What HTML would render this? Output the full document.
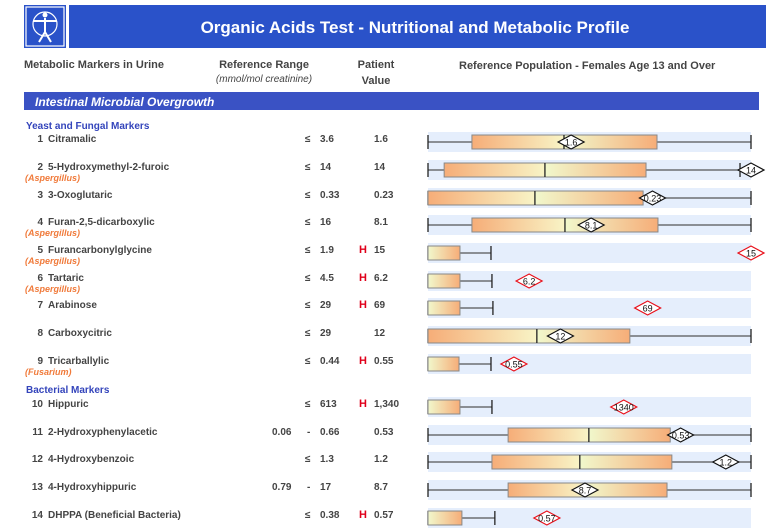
<!DOCTYPE html>
<html><head><meta charset="utf-8">
<style>
html,body{margin:0;padding:0;background:#fff;}
svg{display:block;font-family:"Liberation Sans",Arial,sans-serif;}
</style></head>
<body>
<svg id="chart" width="772" height="532" viewBox="0 0 772 532" xmlns="http://www.w3.org/2000/svg">
<defs>
<linearGradient id="gL" x1="0" x2="1" y1="0" y2="0"><stop offset="0" stop-color="#f6ad78"/><stop offset="1" stop-color="#f8f4c6"/></linearGradient>
<linearGradient id="gR" x1="0" x2="1" y1="0" y2="0"><stop offset="0" stop-color="#f1f8cc"/><stop offset="1" stop-color="#f6ad78"/></linearGradient>
</defs>
<g>
<rect x="24" y="5" width="42" height="43" fill="#2a52c9"/>
<rect x="26" y="7" width="38" height="39" fill="none" stroke="#fff" stroke-width="1.2"/>
<circle cx="45" cy="24" r="12" fill="none" stroke="#fff" stroke-width="1.2"/>
<circle cx="45" cy="15" r="2.5" fill="#fff"/>
<path d="M33 21 L57 21 M45 18 L45 32 M45 32 L39 42 M45 32 L51 42" stroke="#fff" stroke-width="2" fill="none"/>
<rect x="69" y="5" width="697" height="43" fill="#2a52c9"/>
<text x="415" y="33" text-anchor="middle" fill="#fff" font-size="17" font-weight="bold">Organic Acids Test - Nutritional and Metabolic Profile</text>
</g>
<g fill="#444" font-size="11" font-weight="bold">
<text x="24" y="68">Metabolic Markers in Urine</text>
<text x="264" y="68" text-anchor="middle">Reference Range</text>
<text x="264" y="82" text-anchor="middle" font-style="italic" font-size="10" font-weight="normal">(mmol/mol creatinine)</text>
<text x="376" y="68" text-anchor="middle">Patient</text>
<text x="376" y="84" text-anchor="middle">Value</text>
<text x="459" y="69">Reference Population - Females Age 13 and Over</text>
</g>
<rect x="24" y="92" width="735" height="18" fill="#3a52c4"/>
<text x="35" y="106" fill="#fff" font-size="12" font-weight="bold" font-style="italic">Intestinal Microbial Overgrowth</text>
<text x="26" y="129" fill="#3344bb" font-size="10" font-weight="bold">Yeast and Fungal Markers</text>
<text x="26" y="393" fill="#3344bb" font-size="10" font-weight="bold">Bacterial Markers</text>
<g id="rows"></g>
</svg>
<script>
// Data: per-row box stats in percent of the row's reference scale (0-100)
const nums = [1,2,3,4,5,6,7,8,9,10,11,12,13,14];
const names = ["Citramalic","5-Hydroxymethyl-2-furoic","3-Oxoglutaric","Furan-2,5-dicarboxylic","Furancarbonylglycine","Tartaric","Arabinose","Carboxycitric","Tricarballylic","Hippuric","2-Hydroxyphenylacetic","4-Hydroxybenzoic","4-Hydroxyhippuric","DHPPA (Beneficial Bacteria)"];
const organisms = ["","(Aspergillus)","","(Aspergillus)","(Aspergillus)","(Aspergillus)","","","(Fusarium)","","","","",""];
const refLow = ["","","","","","","","","","","0.06","","0.79",""];
const refHigh = ["3.6","14","0.33","16","1.9","4.5","29","29","0.44","613","0.66","1.3","17","0.38"];
const patientLabels = ["1.6","14","0.23","8.1","15","6.2","69","12","0.55","1,340","0.53","1.2","8.7","0.57"];
const valueText = ["1.6","14","0.23","8.1","15","6.2","69","12","0.55","1340","0.53","1.2","8.7","0.57"];
const flags = [0,0,0,0,1,1,1,0,1,1,0,0,0,1];
const boxLo = [13.6,5,0,13.6,0,0,0,0,0,0,24.8,19.8,24.8,0];
const boxHi = [70.9,67.5,66.6,71.2,9.9,9.9,9.9,62.5,9.6,9.9,75,75.5,74,10.5];
const median = [42.1,36.2,33.1,42.4,null,null,null,33.7,null,null,49.8,47,48.6,null];
const whiskLo = [0,0,0,0,0,0,0,0,0,0,0,0,0,0];
const whiskHi = [100,96.6,100,100,19.5,19.8,20.1,100,19.5,19.8,100,100,100,20.7];
const marker = [44.3,100,69.5,50.5,100,31.3,68,41,26.6,60.6,78.2,92.2,48.6,36.8];
const rowY = [142,170,198,225,253,281,308,336,364,407,435,462,490,518];

const X0=428, X1=751;
function xs(p){return X0+(X1-X0)*p/100;}
const NS="http://www.w3.org/2000/svg";
const g=document.getElementById('rows');
function mk(tag,attrs,parent,txt){const e=document.createElementNS(NS,tag);for(const k in attrs)e.setAttribute(k,attrs[k]);if(txt!==undefined)e.textContent=txt;(parent||g).appendChild(e);return e;}

nums.forEach((n,i)=>{
  const cy=rowY[i];
  const ty=cy;
  const row=mk('g',{});
  
  
  const tc="#444";
  const t1=mk('text',{x:43,y:ty,'text-anchor':'end',fill:tc,'font-size':10,'font-weight':'bold'},row,String(n));
  
  
  const t2=mk('text',{x:48,y:ty,fill:tc,'font-size':10,'font-weight':'bold'},row,names[i]);
  
  
  if(organisms[i]){
    const o=mk('text',{x:25,y:cy+11,fill:'#f07a3a','font-size':9,'font-style':'italic','font-weight':'bold'},row,organisms[i]);
    
    
  }
  if(refLow[i]){
    const l=mk('text',{x:272,y:ty,fill:tc,'font-size':10,'font-weight':'bold'},row,refLow[i]);
    
    
    const d=mk('text',{x:307,y:ty,fill:tc,'font-size':10,'font-weight':'bold'},row,'-');
    
    
  } else {
    const le=mk('text',{x:305,y:ty,fill:tc,'font-size':10,'font-weight':'bold'},row,'≤');
    
    
  }
  const rh=mk('text',{x:320,y:ty,fill:tc,'font-size':10,'font-weight':'bold'},row,refHigh[i]);
  
  
  if(flags[i]){
    const h=mk('text',{x:359,y:ty,fill:'#e0001a','font-size':11,'font-weight':'bold'},row,'H');
    
    
  }
  const pv=mk('text',{x:374,y:ty,fill:tc,'font-size':10,'font-weight':'bold'},row,patientLabels[i]);
  
  
  const band=mk('rect',{x:X0,y:cy-10,width:X1-X0,height:20,fill:'#e5eefc'},row);
  
  
  const w=mk('line',{x1:xs(whiskLo[i]),x2:xs(whiskHi[i]),y1:cy,y2:cy,stroke:'#555','stroke-width':1.3},row);
  
  
  [whiskLo[i],whiskHi[i]].forEach(v=>{
    const c=mk('line',{x1:xs(v),x2:xs(v),y1:cy-7,y2:cy+7,stroke:'#222','stroke-width':1.3},row);
    
    
  });
  const bx=xs(boxLo[i]), bw=xs(boxHi[i])-bx;
  if(median[i]===null){
    const b=mk('rect',{x:bx,y:cy-7,width:bw,height:14,fill:'url(#gR)',stroke:'#888','stroke-width':1},row);
    
    
  } else {
    const m=xs(median[i]);
    const b1=mk('rect',{x:bx,y:cy-7,width:m-bx,height:14,fill:'url(#gL)'},row);
    
    
    const b2=mk('rect',{x:m,y:cy-7,width:xs(boxHi[i])-m,height:14,fill:'url(#gR)'},row);
    
    
    const bo=mk('rect',{x:bx,y:cy-7,width:bw,height:14,fill:'none',stroke:'#888','stroke-width':1},row);
    
    
    const ml=mk('line',{x1:m,x2:m,y1:cy-7,y2:cy+7,stroke:'#222','stroke-width':1.3},row);
    
    
  }
  const mx=xs(marker[i]);
  const col=flags[i]?'#e8101a':'#111';
  const dm=mk('polygon',{points:`${mx-13},${cy} ${mx},${cy-7} ${mx+13},${cy} ${mx},${cy+7}`,fill:'#fff',stroke:col,'stroke-width':1.2},row);
  
  
  const ml=mk('text',{x:mx,y:cy+3.5,'text-anchor':'middle',fill:'#111','font-size':9},row,valueText[i]);
  
  
});
</script>
</body></html>
